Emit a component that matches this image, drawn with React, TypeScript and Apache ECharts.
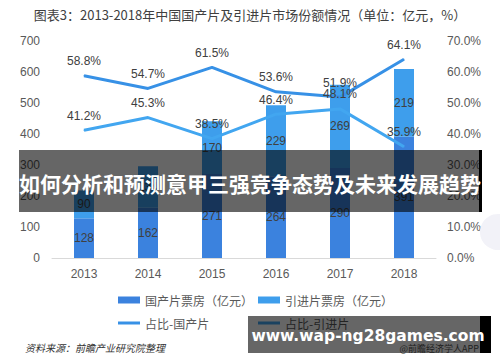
import React, { useEffect, useRef } from "react";
import * as echarts from "echarts";

const years = ["2013", "2014", "2015", "2016", "2017", "2018"];
const domesticBox = [128, 162, 271, 264, 290, 391];
const importedBox = [90, 134, 170, 229, 269, 219];
const domesticShare = [58.8, 54.7, 61.5, 53.6, 51.9, 64.1];
const importedShare = [41.2, 45.3, 38.5, 46.4, 48.1, 35.9];
const seriesNames = ["国产片票房（亿元）", "引进片票房（亿元）", "占比-国产片", "占比-引进片"];

const titleText = "图表3：2013-2018年中国国产片及引进片市场份额情况（单位：亿元，%）";
const sourceText = "资料来源：前瞻产业研究院整理";
const bannerText = "如何分析和预测意甲三强竞争态势及未来发展趋势";
const watermarkText = "www.wap-ng28games.com";
const appText = "@前瞻经济学人APP";

const FONT = "'Liberation Sans','Noto Sans CJK SC',sans-serif";
const CJK = "'Noto Sans CJK SC',sans-serif";

export default function App() {
  const ref = useRef<HTMLDivElement>(null);
  useEffect(() => {
    if (!ref.current) return;
    const chart = echarts.init(ref.current, undefined, { renderer: "svg" });
    const labelStyle = { color: "#404040", fontSize: 12, fontFamily: FONT };
    const legendText = { color: "#595959", fontSize: 12, fontFamily: CJK };
    const pct = (p: any) => Number(p.value).toFixed(1) + "%";
    chart.setOption({
      animation: false,
      backgroundColor: "#ffffff",
      textStyle: { fontFamily: FONT },
      grid: { left: 52, right: 64, top: 41, bottom: 104 },
      legend: [
        { data: [{ name: seriesNames[0], icon: "rect" }], left: 113, top: 289, itemWidth: 22, itemHeight: 7, textStyle: legendText },
        { data: [{ name: seriesNames[1], icon: "rect" }], left: 253, top: 289, itemWidth: 22, itemHeight: 7, textStyle: legendText },
        { data: [{ name: seriesNames[2], icon: "rect" }], left: 113, top: 312, itemWidth: 22, itemHeight: 3, textStyle: legendText },
        { data: [{ name: seriesNames[3], icon: "rect" }], left: 253, top: 312, itemWidth: 22, itemHeight: 3, textStyle: legendText },
      ],
      xAxis: {
        type: "category",
        data: years,
        axisLine: { lineStyle: { color: "#d9d9d9" } },
        axisTick: { show: false },
        axisLabel: { color: "#595959", fontSize: 12, margin: 10, fontFamily: FONT },
      },
      yAxis: [
        {
          type: "value",
          min: 0,
          max: 700,
          interval: 100,
          splitLine: { show: false },
          axisLine: { show: false },
          axisTick: { show: false },
          axisLabel: { color: "#595959", fontSize: 12, margin: 12, fontFamily: FONT },
        },
        {
          type: "value",
          min: 0,
          max: 70,
          interval: 10,
          splitLine: { show: false },
          axisLine: { show: false },
          axisTick: { show: false },
          axisLabel: {
            color: "#595959",
            fontSize: 12,
            margin: 11,
            fontFamily: FONT,
            formatter: (v: number) => v.toFixed(1) + "%",
          },
        },
      ],
      series: [
        {
          name: seriesNames[0],
          type: "bar",
          stack: "box",
          barWidth: 20,
          data: domesticBox,
          itemStyle: { color: "#3b82de" },
          label: { show: true, position: "inside", ...labelStyle },
        },
        {
          name: seriesNames[1],
          type: "bar",
          stack: "box",
          barWidth: 20,
          data: importedBox,
          itemStyle: { color: "#3e9eec" },
          label: { show: true, position: "inside", ...labelStyle },
        },
        {
          name: seriesNames[2],
          type: "line",
          yAxisIndex: 1,
          data: domesticShare,
          symbol: "circle",
          symbolSize: 1,
          showSymbol: true,
          lineStyle: { color: "#3791e6", width: 3 },
          itemStyle: { color: "#3791e6" },
          label: { show: true, position: "top", distance: 8, ...labelStyle, formatter: pct },
          z: 3,
        },
        {
          name: seriesNames[3],
          type: "line",
          yAxisIndex: 1,
          data: importedShare,
          symbol: "circle",
          symbolSize: 1,
          showSymbol: true,
          lineStyle: { color: "#42a6f0", width: 3 },
          itemStyle: { color: "#42a6f0" },
          label: { show: true, position: "top", distance: 8, ...labelStyle, formatter: pct },
          z: 3,
        },
      ],
      graphic: [
        {
          type: "text",
          left: "center",
          top: 8,
          style: { text: titleText, fill: "#404040", fontSize: 13, fontFamily: CJK },
          z: 100,
        },
        {
          type: "text",
          left: 25,
          top: 342,
          style: { text: sourceText, fill: "#333333", fontSize: 10, fontStyle: "italic", fontFamily: CJK },
          z: 100,
        },
        {
          type: "circle",
          shape: { cx: 498, cy: 232, r: 18 },
          style: { fill: "#f2f2f8" },
          z: 90,
        },
        {
          type: "rect",
          shape: { x: 19, y: 150, width: 460, height: 62 },
          style: { fill: "rgba(0,0,0,0.6)" },
          z: 100,
        },
        {
          type: "rect",
          shape: { x: 479, y: 150, width: 3, height: 62 },
          style: { fill: "#000000" },
          z: 100,
        },
        {
          type: "text",
          x: 250,
          y: 183,
          style: {
            text: bannerText,
            fill: "#ffffff",
            fontSize: 21,
            fontWeight: "bold",
            fontFamily: CJK,
            align: "center",
            verticalAlign: "middle",
          },
          z: 101,
        },
        {
          type: "rect",
          shape: { x: 248, y: 316, width: 232, height: 37 },
          style: { fill: "rgba(0,0,0,0.6)" },
          z: 100,
        },
        {
          type: "rect",
          shape: { x: 480, y: 316, width: 11, height: 37 },
          style: { fill: "#000000" },
          z: 100,
        },
        {
          type: "text",
          x: 479,
          y: 348,
          style: {
            text: appText,
            fill: "#1e1e1e",
            fontSize: 9,
            fontFamily: CJK,
            align: "right",
            verticalAlign: "middle",
          },
          z: 101,
        },
        {
          type: "text",
          x: 368,
          y: 336,
          style: {
            text: watermarkText,
            fill: "#ffffff",
            fontSize: 15.5,
            fontWeight: "bold",
            fontFamily: "'DejaVu Sans',sans-serif",
            align: "center",
            verticalAlign: "middle",
          },
          z: 102,
        },
      ],
    });
    return () => chart.dispose();
  }, []);
  return (
    <div
      ref={ref}
      style={{ position: "fixed", left: 0, top: 0, width: 500, height: 362 }}
    />
  );
}
